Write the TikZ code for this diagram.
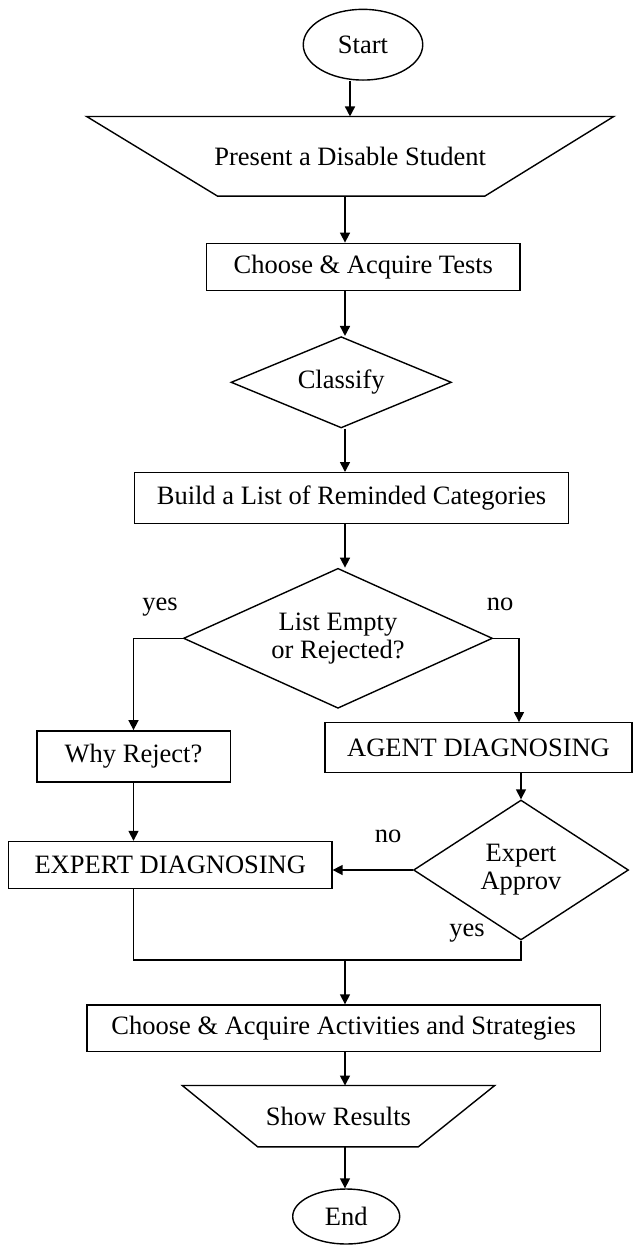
\documentclass[tikz,border=0pt]{standalone}
\usepackage{fontspec}
\setmainfont{Liberation Serif}
\usetikzlibrary{shapes.geometric,arrows.meta,calc}
\begin{document}
\begin{tikzpicture}[x=1pt,y=1pt,
  font=\fontsize{26.5}{28}\selectfont,
  every node/.style={inner sep=0pt, align=center},
  box/.style={draw, rectangle, line width=1.4pt},
  term/.style={draw, ellipse, line width=1.4pt},
  dec/.style={draw, diamond, line width=1.4pt},
  trap/.style={line width=1.4pt},
  link/.style={line width=1.6pt},
  arr/.style={link, -{Triangle[width=10pt,length=10pt]}},
]
\useasboundingbox (0,0) rectangle (633,-1245);

% nodes
\node[term, minimum width=119.5pt, minimum height=70.7pt] (start) at (363,-44.7) {Start};
\node[minimum width=526.8pt, minimum height=79.3pt] (present) at (350.2,-156.3) {Present a Disable Student};
\draw[trap] (present.north west) -- (present.north east) -- ([xshift=-129pt]present.south east) -- ([xshift=131pt]present.south west) -- cycle;
\node[box, minimum width=313.3pt, minimum height=47.4pt] (tests) at (363.3,-267) {Choose \& Acquire Tests};
\node[dec, aspect=2.41, minimum width=220.4pt, minimum height=91.3pt] (classify) at (341.2,-382.3) {Classify};
\node[box, minimum width=433.6pt, minimum height=50.6pt] (build) at (351.5,-498) {Build a List of Reminded Categories};
\node[dec, aspect=2.2, minimum width=309pt, minimum height=140pt] (listq) at (338,-638.3) {List Empty\\or Rejected?};
\node[box, minimum width=193.4pt, minimum height=51pt] (why) at (133.5,-756.3) {Why Reject?};
\node[box, minimum width=307pt, minimum height=49.5pt] (agent) at (478.5,-747.5) {AGENT DIAGNOSING};
\node[dec, aspect=1.54, minimum width=215pt, minimum height=140pt] (expq) at (521,-870) {Expert\\Approv};
\node[box, minimum width=323.3pt, minimum height=47pt] (expd) at (170.3,-865) {EXPERT DIAGNOSING};
\node[box, minimum width=513.5pt, minimum height=46.6pt] (act) at (343.6,-1028.3) {Choose \& Acquire Activities and Strategies};
\node[minimum width=312pt, minimum height=61pt] (show) at (338.5,-1116.2) {Show Results};
\draw[trap] (show.north west) -- (show.north east) -- ([xshift=-76.5pt]show.south east) -- ([xshift=75.5pt]show.south west) -- cycle;
\node[term, minimum width=107pt, minimum height=55pt] (end) at (346.2,-1216.5) {End};

% labels
\node[anchor=base] (yes1) at (160,-610) {yes};
\node[anchor=base] (no1) at (500,-610) {no};
\node[anchor=base] (no2) at (388,-842) {no};
\node[anchor=base] (yes2) at (467,-936) {yes};

% helper coordinates
\coordinate (sx) at (350,0);
\coordinate (ax) at (345,0);
\coordinate (rx) at (519,0);
\coordinate (m) at (345,-960);

% connectors
\draw[arr] (start.south -| sx) -- (present.north -| sx);
\draw[arr] (present.south -| ax) -- (tests.north -| ax);
\draw[arr] (tests.south -| ax) -- (classify.north -| ax);
\draw[arr] (classify.south -| ax) -- (build.north -| ax);
\draw[arr] (build.south -| ax) -- (listq.north -| ax);
\draw[arr] (listq.west) -| (why.north);
\draw[arr] (listq.east) -| (agent.north -| rx);
\draw[arr] (agent.south -| expq.north) -- (expq.north);
\draw[arr] (why.south) -- (expd.north -| why.south);
\draw[arr] (expq.west) -- (expq.west -| expd.east);
\draw[link] (expd.south -| why.south) |- (m) -| (expq.south);
\draw[arr] (m) -- (act.north -| m);
\draw[arr] (act.south -| ax) -- (show.north -| ax);
\draw[arr] (show.south -| ax) -- (end.north -| ax);
\end{tikzpicture}
\end{document}
